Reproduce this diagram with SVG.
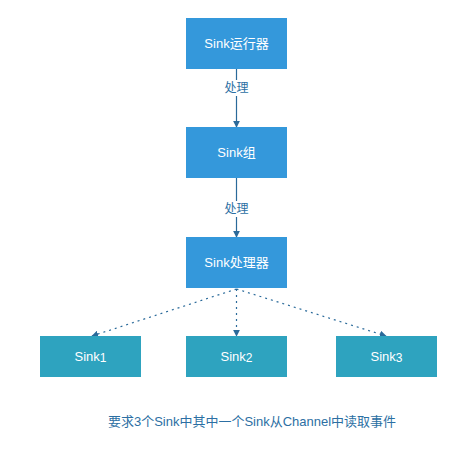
<svg xmlns="http://www.w3.org/2000/svg" width="460" height="453" viewBox="0 0 460 453">
<style>
.top{fill:#3498db}
.bot{fill:#2ea3bf}
.t{fill:#fff;font-family:"Liberation Sans","Noto Sans CJK SC",sans-serif;font-size:13px;text-anchor:middle}
.lbl{fill:#2c6fa3;font-family:"Liberation Sans","Noto Sans CJK SC",sans-serif;font-size:12px;text-anchor:middle}
.sub{font-size:12px}
.solid{stroke:#2a6a9a;stroke-width:1.2;fill:none}
.dot{stroke:#2a6a9a;stroke-width:1.2;fill:none;stroke-dasharray:2 4}
.cap{fill:#2c6fa3;font-family:"Liberation Sans","Noto Sans CJK SC",sans-serif;font-size:13px}
</style>
<defs>
<marker id="ah" viewBox="0 0 10 10" refX="9" refY="5" markerWidth="7" markerHeight="7" markerUnits="userSpaceOnUse" orient="auto">
<path d="M0,0 L10,5 L0,10 z" fill="#2a6a9a"/>
</marker>
</defs>
<rect width="460" height="453" fill="#fff"/>
<g id="connectors">
<line class="solid" x1="236.5" y1="69" x2="236.5" y2="127" marker-end="url(#ah)"/>
<rect x="221" y="80" width="31" height="16" fill="#fff"/>
<text class="lbl" x="236.5" y="92">处理</text>
<line class="solid" x1="236.5" y1="178" x2="236.5" y2="237" marker-end="url(#ah)"/>
<rect x="221" y="201" width="31" height="16" fill="#fff"/>
<text class="lbl" x="236.5" y="213">处理</text>
<line class="dot" x1="236.5" y1="289" x2="92" y2="336" marker-end="url(#ah)"/>
<line class="dot" x1="236.5" y1="289" x2="236.5" y2="336" marker-end="url(#ah)"/>
<line class="dot" x1="236.5" y1="289" x2="386" y2="336" marker-end="url(#ah)"/>
</g>
<g id="runner"><rect class="top" x="186" y="18" width="101" height="51"/><text class="t" x="236.5" y="48">Sink运行器</text></g>
<g id="group"><rect class="top" x="186" y="127" width="101" height="51"/><text class="t" x="236.5" y="157">Sink组</text></g>
<g id="processor"><rect class="top" x="186" y="237" width="101" height="51"/><text class="t" x="236.5" y="267">Sink处理器</text></g>
<g id="sink1"><rect class="bot" x="40" y="336" width="101" height="41"/><text class="t" x="90.5" y="361">Sink<tspan class="sub" dy="1">1</tspan></text></g>
<g id="sink2"><rect class="bot" x="186" y="336" width="101" height="41"/><text class="t" x="236.5" y="361">Sink<tspan class="sub" dy="1">2</tspan></text></g>
<g id="sink3"><rect class="bot" x="336" y="336" width="101" height="41"/><text class="t" x="386.5" y="361">Sink<tspan class="sub" dy="1">3</tspan></text></g>
<text class="cap" x="108" y="426" textLength="288" lengthAdjust="spacingAndGlyphs">要求3个Sink中其中一个Sink从Channel中读取事件</text>
</svg>
